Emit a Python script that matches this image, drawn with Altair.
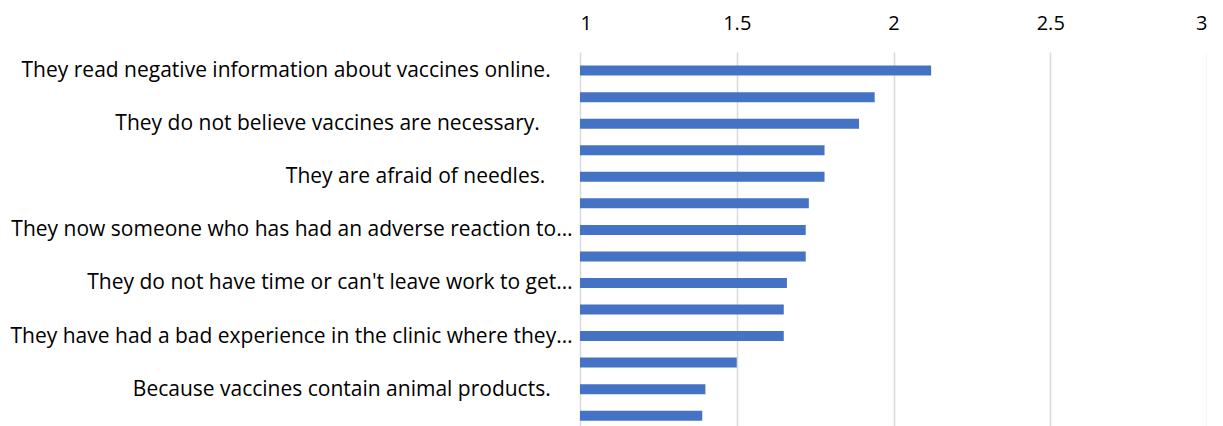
import json
import altair as alt
import pandas as pd

NB = "\u00a0"
END = "\u200b"  # keeps the trailing no-break spaces from being trimmed

# Reasons, in chart order (top to bottom); only every other category is labelled
reasons = [
    "They read negative information about vaccines online." + NB * 4 + END,
    "",
    "They do not believe vaccines are necessary." + NB * 6 + END,
    "",
    "They are afraid of needles." + NB * 5 + END,
    "",
    "They now someone who has had an adverse reaction to…",
    "",
    "They do not have time or can't leave work to get…",
    "",
    "They have had a bad experience in the clinic where they…",
    "",
    "Because vaccines contain animal products." + NB * 4 + END,
    "",
]
scores = [2.12, 1.94, 1.89, 1.78, 1.78, 1.73, 1.72, 1.72, 1.66, 1.65, 1.65, 1.50, 1.40, 1.39]
x_ticks = [1, 1.5, 2, 2.5, 3]

df = pd.DataFrame({"rank": list(range(len(scores))), "reason": reasons, "score": scores})

label_expr = json.dumps(reasons) + "[datum.value]"
FONT = "Open Sans"
FONT_SIZE = 21

chart = (
    alt.Chart(df)
    .mark_bar(orient="horizontal", size=10, color="#4472C4")
    .encode(
        x=alt.X(
            "score:Q",
            scale=alt.Scale(domain=[1, 3], nice=False, zero=False),
            axis=alt.Axis(
                orient="top",
                values=x_ticks,
                format="~g",
                title=None,
                domain=False,
                ticks=False,
                tickSize=0,
                labelPadding=23,
                labelBaseline="alphabetic",
                labelFontSize=FONT_SIZE - 1,
                labelFont=FONT,
                labelColor="#000000",
                grid=True,
                gridColor="#d9d9d9",
                gridWidth=1.5,
            ),
        ),
        x2=alt.datum(1),
        y=alt.Y(
            "rank:Q",
            scale=alt.Scale(domain=[-0.513, 13.2], reverse=True, nice=False, zero=False),
            axis=alt.Axis(
                values=list(range(0, 14, 2)),
                labelExpr=label_expr,
                title=None,
                domain=False,
                ticks=False,
                grid=False,
                labelPadding=8,
                labelFontSize=FONT_SIZE,
                labelFont=FONT,
                labelColor="#000000",
                labelLimit=0,
            ),
        ),
        tooltip=["reason", "score"],
    )
    .properties(
        width=627,
        height=374,
        autosize=alt.AutoSizeParams(type="none"),
        padding={"left": 580, "top": 52, "right": 0, "bottom": 0},
        background="white",
    )
    .configure_view(stroke=None)
)

chart.save("out.html", embed_options={"renderer": "svg", "actions": False})
